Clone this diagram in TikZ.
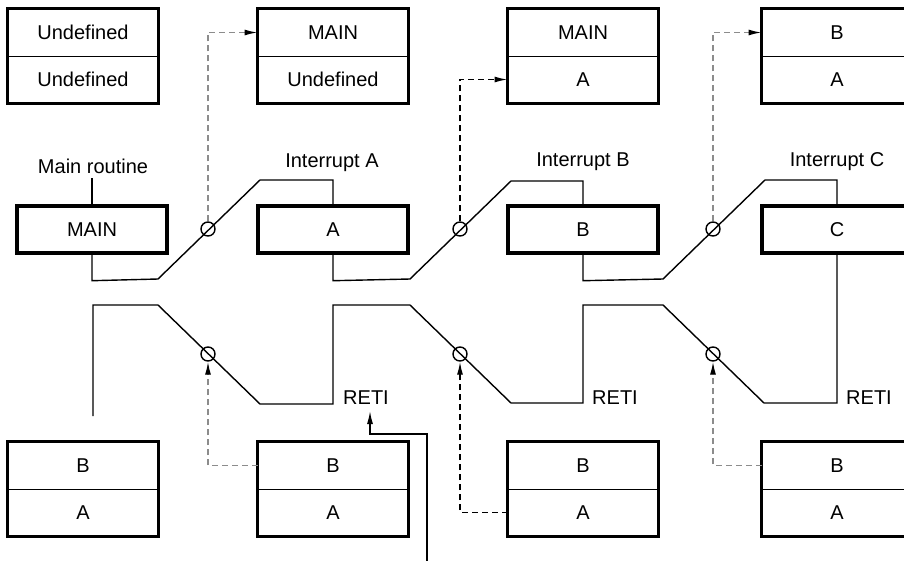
\documentclass[tikz,border=0pt]{standalone}
\usepackage{fontspec}
\setmainfont{Liberation Sans}
\usetikzlibrary{arrows.meta}
\tikzset{
  cell/.style={draw,line width=1pt,minimum width=150pt,minimum height=47pt,inner sep=0pt},
  stackframe/.style={line width=3.4pt},
  routine/.style={draw,line width=3.4pt,minimum width=150pt,minimum height=47pt,inner sep=0pt},
  flow/.style={line width=1.4pt},
  tap/.style={circle,draw,line width=1.4pt,minimum size=14pt,inner sep=0pt},
  link/.style={line width=1.4pt,dash pattern=on 6pt off 4pt,-{Latex[length=13pt,width=6pt,color=black]}},
  linkgray/.style={link,draw=black!45}
}
\begin{document}
\begin{tikzpicture}[x=1pt,y=-1pt,font=\fontsize{20}{24}\selectfont]
  \useasboundingbox (0,0) rectangle (904,560);
  \clip (0,0) rectangle (904,560);
  % stacks before the interrupts
  \node[cell] (s1t) at (83,32.5) {Undefined};
  \node[cell] (s1b) at (83,79.5) {Undefined};
  \draw[stackframe] (s1t.north west) rectangle (s1b.south east);
  \node[cell] (s2t) at (333,32.5) {MAIN};
  \node[cell] (s2b) at (333,79.5) {Undefined};
  \draw[stackframe] (s2t.north west) rectangle (s2b.south east);
  \node[cell] (s3t) at (583,32.5) {MAIN};
  \node[cell] (s3b) at (583,79.5) {A};
  \draw[stackframe] (s3t.north west) rectangle (s3b.south east);
  \node[cell] (s4t) at (837,32.5) {B};
  \node[cell] (s4b) at (837,79.5) {A};
  \draw[stackframe] (s4t.north west) rectangle (s4b.south east);
  % stacks on return
  \node[cell] (u1t) at (83,465.5) {B};
  \node[cell] (u1b) at (83,512.5) {A};
  \draw[stackframe] (u1t.north west) rectangle (u1b.south east);
  \node[cell] (u2t) at (333,465.5) {B};
  \node[cell] (u2b) at (333,512.5) {A};
  \draw[stackframe] (u2t.north west) rectangle (u2b.south east);
  \node[cell] (u3t) at (583,465.5) {B};
  \node[cell] (u3b) at (583,512.5) {A};
  \draw[stackframe] (u3t.north west) rectangle (u3b.south east);
  \node[cell] (u4t) at (837,465.5) {B};
  \node[cell] (u4b) at (837,512.5) {A};
  \draw[stackframe] (u4t.north west) rectangle (u4b.south east);
  % routines
  \node[routine] (main) at (92,229.5) {MAIN};
  \node[routine] (inta) at (333,229.5) {A};
  \node[routine] (intb) at (583,229.5) {B};
  \node[routine] (intc) at (837,229.5) {C};
  \node at (93,166) {Main routine};
  \node at (332,163) {Interrupt A};
  \node at (583,162) {Interrupt B};
  \node at (837,162) {Interrupt C};
  \node (reti1) at (366,398) {RETI};
  \node (reti2) at (615,398) {RETI};
  \node (reti3) at (869,398) {RETI};
  % program flow
  \draw[flow] (main.north) -- ++(0,-26);
  \draw[flow] (main.south) -- ++(0,26) -- (158,279) -- (260,180) -- (333,180) -- (inta.north);
  \draw[flow] (inta.south) -- ++(0,26) -- (410,279) -- (511,181) -- (583,181) -- (intb.north);
  \draw[flow] (intb.south) -- ++(0,26) -- (663,279) -- (765,180) -- (837,180) -- (intc.north);
  \draw[flow] (intc.south) -- (837,403) -- (764,403) -- (663,305) -- (583,305) -- (583,403)
    -- (511,403) -- (410,305) -- (333,305) -- (333,404) -- (260,404) -- (158,305)
    -- (93,305) -- (93,416);
  \node[tap] (ta) at (208,229) {};
  \node[tap] (tb) at (460,229) {};
  \node[tap] (tc) at (713,229) {};
  \node[tap] (ra) at (208,354) {};
  \node[tap] (rb) at (460,354) {};
  \node[tap] (rc) at (713,354) {};
  % stack transfers
  \draw[linkgray] (ta.north) |- (s2t.west);
  \draw[link] (tb.north) |- (s3b.west);
  \draw[linkgray] (tc.north) |- (s4t.west);
  \draw[linkgray] (u2t.west) -| (ra.south);
  \draw[link] (u3b.west) -| (rb.south);
  \draw[linkgray] (u4t.west) -| (rc.south);
  \coordinate (retiin) at (427,562);
  \coordinate (retitip) at (370,411);
  \draw[flow,-{Latex[length=13pt,width=6pt]}] (retiin) |- (370,434) -- (retitip);
\end{tikzpicture}
\end{document}
